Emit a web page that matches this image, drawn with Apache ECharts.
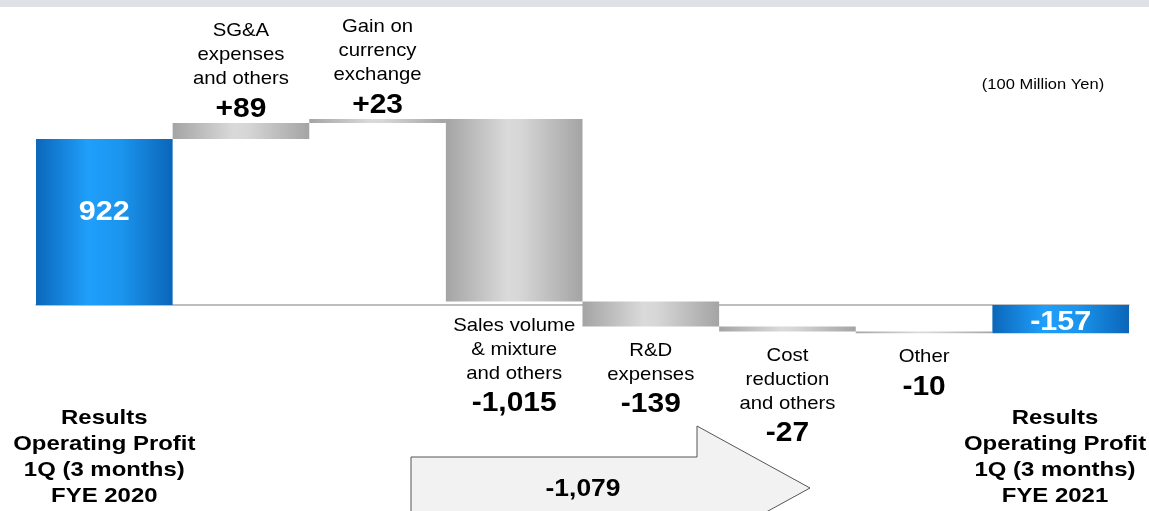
<!DOCTYPE html>
<html>
<head>
<meta charset="utf-8">
<script src="https://cdn.jsdelivr.net/npm/echarts@6/dist/echarts.min.js"></script>
<style>
  html, body { margin: 0; padding: 0; background: #fff; }
  #main { width: 1149px; height: 511px; }
</style>
</head>
<body>
<div id="main"></div>
<script>
// operating profit bridge, 100 million yen
const categories = ['FYE 2020', 'SG&A', 'Currency', 'Sales volume', 'R&D', 'Cost reduction', 'Other', 'FYE 2021'];
const catLabels = [
    'Results\nOperating Profit\n1Q (3 months)\nFYE 2020',
    'SG&A\nexpenses\nand others',
    'Gain on\ncurrency\nexchange',
    'Sales volume\n& mixture\nand others',
    'R&D\nexpenses',
    'Cost\nreduction\nand others',
    'Other',
    'Results\nOperating Profit\n1Q (3 months)\nFYE 2021'
];
const deltas = [922, 89, 23, -1015, -139, -27, -10, -157];
const isTotal = [true, false, false, false, false, false, false, true];
const valueLabels = ['922', '+89', '+23', '-1,015', '-139', '-27', '-10', '-157'];
const arrowLabel = '-1,079';

const FONT = "'Liberation Sans', Arial, sans-serif";

// running sum -> [index, start, end]
var running = 0;
var rows = [];
for (var i = 0; i < deltas.length; i++) {
    var start = isTotal[i] ? 0 : running;
    var end = isTotal[i] ? deltas[i] : running + deltas[i];
    running = end;
    rows.push([i, start, end]);
}

var grayFill = new echarts.graphic.LinearGradient(0, 0, 1, 0, [
    {offset: 0, color: '#a4a4a4'},
    {offset: 0.45, color: '#dadada'},
    {offset: 0.55, color: '#d6d6d6'},
    {offset: 1, color: '#a4a4a4'}
]);
var blueFill = new echarts.graphic.LinearGradient(0, 0, 1, 0, [
    {offset: 0, color: '#0b67ba'},
    {offset: 0.38, color: '#1f9ffb'},
    {offset: 0.62, color: '#1b95ee'},
    {offset: 1, color: '#0a66b8'}
]);

function renderItem(params, api) {
    var i = params.dataIndex;
    var p0 = api.coord([i, api.value(1)]);
    var p1 = api.coord([i, api.value(2)]);
    var zeroY = api.coord([i, 0])[1];
    var w = api.size([1, 0])[0];
    var cx = p0[0];
    var top = Math.min(p0[1], p1[1]);
    var bottom = Math.max(p0[1], p1[1]);
    var h = Math.max(bottom - top, 1.5);
    var children = [{
        type: 'rect',
        shape: {x: cx - w / 2, y: top, width: w, height: h},
        style: {fill: isTotal[i] ? blueFill : grayFill}
    }];
    if (isTotal[i]) {
        // tall bar: label sits a bit above the middle
        children.push({
            type: 'text',
            x: cx, y: top + h / 2 + 3 - (h > 60 ? 13 : 0), scaleX: 1.09,
            style: {
                text: valueLabels[i], x: 0, y: 0,
                align: 'center', verticalAlign: 'middle',
                fill: '#fff', font: 'bold 28px ' + FONT
            }
        });
        // keep the wide bold block inside the page
        children.push({
            type: 'text',
            x: Math.min(cx, api.getWidth() - 94), y: zeroY + 100, scaleX: 1.14,
            style: {
                text: catLabels[i], x: 0, y: 0,
                align: 'center', verticalAlign: 'top',
                fill: '#000', font: 'bold 21px ' + FONT, lineHeight: 26
            }
        });
    } else {
        var rich = catLabels[i].split('\n').map(function (s) { return '{c|' + s + '}'; }).join('\n')
            + '\n{v|' + valueLabels[i] + '}';
        var up = deltas[i] > 0;
        children.push({
            type: 'text',
            x: cx, y: up ? top + 4 : bottom + 12, scaleX: 1.07,
            style: {
                text: rich, x: 0, y: 0,
                align: 'center', verticalAlign: up ? 'bottom' : 'top',
                rich: {
                    c: {fontFamily: FONT, fontSize: 19, lineHeight: 24, color: '#000', align: 'center'},
                    v: {fontFamily: FONT, fontSize: 28, fontWeight: 'bold', lineHeight: 36, color: '#000', align: 'center'}
                }
            }
        });
    }
    return {type: 'group', children: children};
}

var chart = echarts.init(document.getElementById('main'));

var option = {
    animation: false,
    grid: {left: 36, right: 20, top: 89, height: 360},
    xAxis: {
        type: 'category',
        data: categories,
        axisLine: {onZero: true, lineStyle: {color: '#a9a9a9', width: 1.5}},
        axisTick: {show: false},
        axisLabel: {show: false}
    },
    yAxis: {
        type: 'value',
        min: -800,
        max: 1200,
        show: false,
        splitLine: {show: false}
    },
    graphic: [
        {type: 'rect', left: 0, top: 0, shape: {width: 1149, height: 7}, style: {fill: '#dee2e7'}},
        {
            type: 'text', x: 1043, y: 85, scaleX: 1.1,
            style: {text: '(100 Million Yen)', x: 0, y: 0, align: 'center', verticalAlign: 'middle', fill: '#000', font: '15px ' + FONT}
        },
        {
            type: 'polygon',
            shape: {points: [[411, 457], [697, 457], [697, 426], [810, 488], [697, 550], [697, 519], [411, 519]]},
            style: {fill: '#f2f2f2', stroke: '#555', lineWidth: 1},
            z: 1
        },
        {
            type: 'text', x: 583, y: 489, scaleX: 1.1,
            style: {text: arrowLabel, x: 0, y: 0, align: 'center', verticalAlign: 'middle', fill: '#000', font: 'bold 24px ' + FONT},
            z: 2
        }
    ],
    series: [{
        type: 'custom',
        renderItem: renderItem,
        encode: {x: 0, y: [1, 2]},
        data: rows,
        z: 3
    }]
};

chart.setOption(option);
</script>
</body>
</html>
